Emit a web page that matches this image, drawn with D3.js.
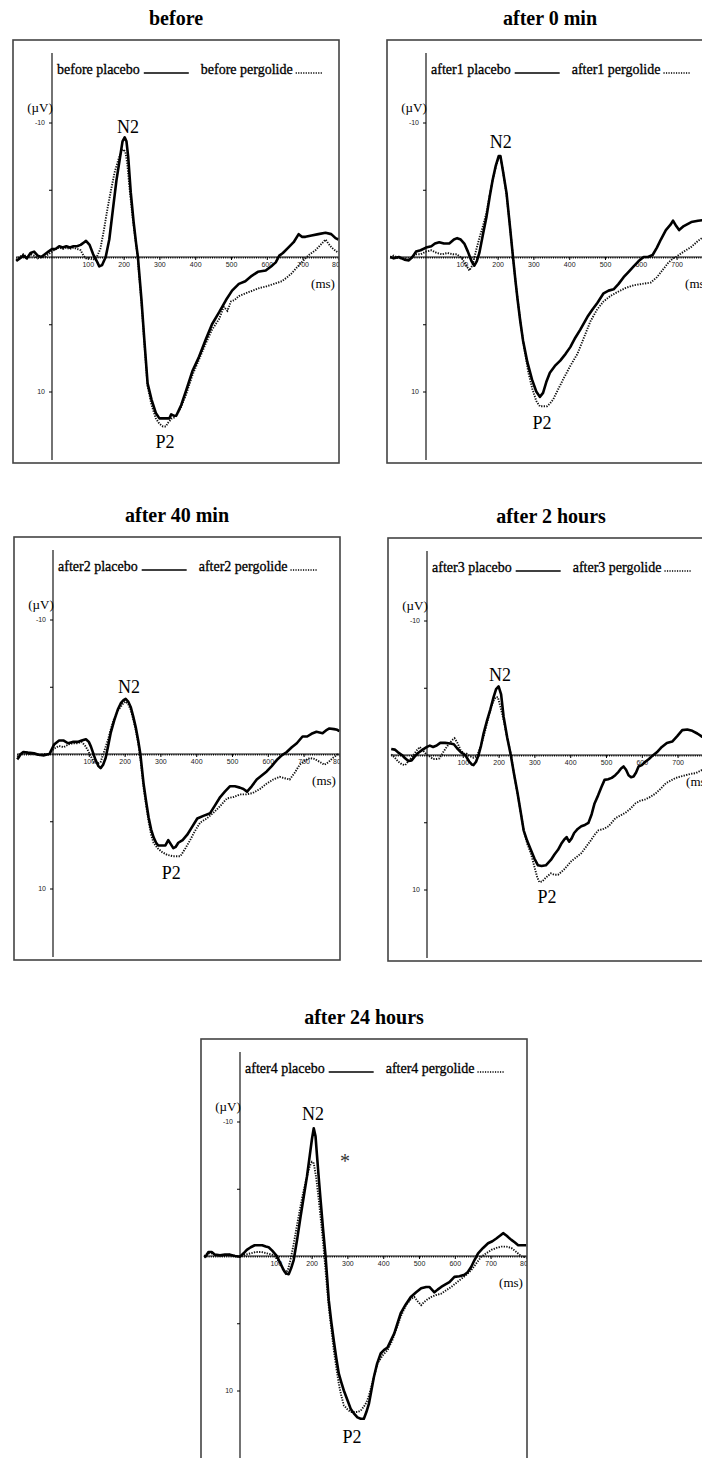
<!DOCTYPE html>
<html><head><meta charset="utf-8">
<script src="https://cdn.jsdelivr.net/npm/d3@7"></script>
<style>body{margin:0;background:#fff;} svg{display:block}</style>
</head><body>
<svg id="c" width="702" height="1458"></svg>
<script>
// ---------- DATA ----------
const panelTitles = ["before", "after 0 min", "after 40 min", "after 2 hours", "after 24 hours"];
const placeboLabels = ["before placebo", "after1 placebo", "after2 placebo", "after3 placebo", "after4 placebo"];
const pergolideLabels = ["before pergolide", "after1 pergolide", "after2 pergolide", "after3 pergolide", "after4 pergolide"];
const xTickValues = [100, 200, 300, 400, 500, 600, 700, 800];
const xTickLabels = ["100", "200", "300", "400", "500", "600", "700", "80"];
const yTickValues = [-10, -5, 5, 10];
const yTickLabels = ["-10", "", "", "10"];
const xUnit = "(ms)";
const yUnit = "(\u00B5V)";
// label anchors [ms, µV]
const n2Labels = [[212, -9.7], [209, -8.55], [212, -5.0], [204, -5.95], [204, -10.55]];
const p2Labels = [[316, 13.75], [324, 12.3], [330, 8.85], [335, 10.55], [313, 13.45]];
const asteriskMark = [293, -7.35];

// [ms, µV]  (negative up)
const beforePlacebo = [[-100,0.3],[-90,0.1],[-80,-0.1],[-70,0.1],[-60,-0.3],[-50,-0.4],[-40,-0.1],[-30,0],[-20,-0.2],[-10,-0.4],[0,-0.6],[10,-0.6],[20,-0.8],[30,-0.7],[40,-0.8],[50,-0.7],[60,-0.8],[70,-0.8],[80,-0.9],[90,-1.1],[95,-1.2],[105,-0.9],[115,-0.2],[125,0.3],[132,0.7],[140,0.6],[150,0],[160,-1.3],[170,-3.5],[180,-5.7],[190,-7.4],[197,-8.6],[203,-8.9],[208,-8.6],[213,-7.4],[220,-4.8],[228,-2.6],[235,-1],[240,0],[245,1.6],[250,3.2],[258,6.2],[267,9.4],[278,10.6],[290,11.6],[300,12],[315,12],[328,12],[333,11.7],[340,11.8],[347,11.8],[361,11],[375,9.9],[392,8.5],[411,7.4],[430,6.1],[447,5.0],[467,4.1],[486,3.2],[503,2.5],[522,2.0],[540,1.8],[558,1.4],[575,1.1],[597,1.0],[612,0.7],[625,0.4],[635,-0.1],[645,-0.3],[660,-0.7],[675,-1.1],[689,-1.7],[698,-1.5],[708,-1.5],[725,-1.6],[744,-1.7],[764,-1.8],[780,-1.7],[792,-1.4],[800,-1.3]];
const beforePergolide = [[-100,0.2],[-90,0],[-80,-0.2],[-70,0],[-60,-0.2],[-50,-0.1],[-40,0.1],[-30,0],[-20,0],[-10,-0.2],[0,-0.4],[10,-0.6],[20,-0.7],[30,-0.6],[40,-0.7],[50,-0.6],[60,-0.7],[70,-0.6],[80,-0.5],[88,-0.1],[95,0.1],[105,0.1],[115,0.2],[125,0],[135,-0.6],[145,-2.0],[155,-3.6],[165,-5.0],[175,-6.3],[185,-7.2],[193,-7.8],[200,-8.0],[205,-7.8],[210,-7.0],[217,-5.0],[225,-3.0],[232,-1.5],[238,-0.3],[243,1.2],[250,3.4],[258,6.4],[267,9.6],[278,11],[290,12],[300,12.4],[310,12.6],[318,12.6],[325,12.3],[335,12],[345,11.9],[360,11.2],[375,10.2],[392,8.8],[411,7.6],[430,6.4],[447,5.4],[467,4.6],[480,3.7],[490,4.0],[500,3.3],[510,3.2],[522,2.9],[541,2.7],[560,2.5],[580,2.3],[597,2.2],[620,2.0],[642,1.8],[657,1.5],[670,1.2],[690,0.6],[708,0.1],[720,-0.2],[736,-0.5],[750,-0.9],[764,-1.3],[772,-1.0],[781,-0.7],[795,-0.4],[800,-0.3]];

const after1Placebo = [[-100,0],[-90,0.1],[-76,0],[-60,0.2],[-48,0.25],[-38,0],[-28,-0.4],[-15,-0.5],[0,-0.7],[15,-0.8],[25,-1.0],[37,-1.1],[50,-1.0],[65,-1.0],[78,-1.3],[87,-1.4],[97,-1.3],[107,-1.0],[117,-0.4],[127,0.3],[135,0.65],[142,0.3],[149,-0.3],[160,-1.8],[169,-3.0],[178,-4.5],[186,-5.7],[195,-6.8],[203,-7.5],[208,-7.5],[215,-6.4],[225,-4.75],[234,-2.4],[243,0],[250,1.8],[256,3.2],[263,4.7],[271,6.2],[283,7.8],[296,9.1],[308,10.0],[318,10.4],[327,10.1],[336,9.3],[346,8.6],[360,8.1],[375,7.7],[390,7.2],[403,6.7],[417,6.0],[431,5.4],[451,4.45],[465,3.9],[479,3.4],[496,2.7],[510,2.5],[524,2.4],[538,2.0],[552,1.5],[566,1.1],[580,0.7],[594,0.3],[608,0],[620,0],[633,-0.15],[645,-0.7],[656,-1.3],[670,-2.0],[683,-2.4],[690,-2.7],[699,-2.3],[707,-2.0],[720,-2.3],[741,-2.6],[760,-2.7],[775,-2.75],[800,-2.8]];
const after1Pergolide = [[-100,0],[-90,-0.1],[-76,0.1],[-60,0.1],[-48,0.2],[-30,-0.2],[-15,-0.2],[0,-0.4],[15,-0.5],[30,-0.3],[45,-0.2],[60,-0.3],[75,-0.2],[87,-0.2],[100,0.1],[112,0.6],[121,1.0],[130,0.6],[140,-0.5],[150,-1.5],[158,-2.2],[169,-3.3],[178,-4.6],[186,-5.7],[195,-6.7],[203,-7.4],[208,-7.4],[215,-6.4],[225,-4.6],[234,-2.4],[243,0],[250,1.8],[258,3.6],[266,5.3],[275,6.9],[286,8.6],[297,9.8],[308,10.7],[318,11.1],[330,11.1],[338,11.1],[346,10.9],[355,10.6],[368,9.9],[383,9.1],[403,8.1],[423,7.2],[441,6.0],[459,4.8],[478,3.9],[496,3.3],[515,2.9],[535,2.6],[558,2.3],[580,2.1],[604,2.0],[628,1.9],[645,1.5],[660,1.0],[676,0.45],[690,0.1],[698,0],[720,-0.4],[741,-0.75],[760,-1.2],[775,-1.5],[800,-1.8]];

const after2Placebo = [[-100,0.4],[-97,0.3],[-90,0],[-83,-0.15],[-70,-0.1],[-53,-0.05],[-40,0.05],[-25,0.1],[-10,0],[3,-0.7],[17,-1.0],[30,-1.0],[42,-0.8],[55,-0.9],[69,-0.9],[80,-1.0],[92,-1.1],[100,-0.9],[106,-0.55],[119,0.45],[127,0.9],[133,1.05],[140,0.8],[147,0.3],[154,-0.6],[161,-1.55],[171,-2.5],[181,-3.3],[190,-3.8],[197,-4.0],[203,-4.1],[210,-3.9],[217,-3.5],[224,-2.8],[231,-2.0],[238,-1.0],[244,0],[253,2.2],[260,3.5],[267,4.7],[274,5.6],[281,6.2],[288,6.6],[294,6.8],[305,6.8],[314,6.8],[322,6.4],[329,6.7],[336,7.0],[343,6.9],[350,6.6],[362,6.4],[375,6.0],[389,5.4],[403,4.8],[420,4.6],[439,4.4],[453,3.8],[467,3.2],[480,2.8],[494,2.4],[508,2.4],[522,2.5],[532,2.6],[542,2.8],[555,2.4],[569,1.9],[583,1.6],[597,1.3],[611,0.9],[625,0.45],[639,0.1],[653,-0.15],[667,-0.5],[681,-0.8],[697,-1.3],[710,-1.3],[722,-1.5],[736,-1.65],[753,-1.55],[765,-1.8],[772,-1.9],[785,-1.85],[794,-1.8],[800,-1.7]];
const after2Pergolide = [[-100,0.2],[-90,0],[-80,-0.1],[-70,0],[-53,0],[-40,0.1],[-25,0],[-10,0],[3,-0.4],[17,-0.6],[30,-0.5],[42,-0.7],[55,-0.8],[69,-0.8],[80,-0.9],[90,-0.6],[97,-0.3],[106,0.2],[114,0.6],[125,0.7],[133,0.6],[143,-0.2],[153,-1.0],[161,-1.8],[169,-2.5],[180,-3.2],[189,-3.5],[197,-3.8],[203,-3.9],[210,-3.7],[217,-3.3],[224,-2.6],[231,-1.8],[238,-0.8],[244,0.3],[253,2.5],[260,3.8],[267,5.0],[274,6.0],[281,6.6],[292,7.0],[305,7.3],[319,7.5],[335,7.6],[345,7.6],[356,7.6],[370,7.0],[383,6.4],[397,5.7],[411,5.1],[429,4.8],[447,4.4],[466,3.9],[486,3.3],[504,3.2],[522,3.0],[540,3.0],[558,2.9],[578,2.6],[597,2.2],[615,1.9],[633,1.7],[647,1.8],[661,1.9],[675,1.4],[689,0.8],[703,0.5],[717,0.3],[728,0.35],[736,0.45],[746,0.6],[758,0.8],[770,0.6],[781,0.3],[794,0.05],[800,0]];

const after3Placebo = [[-100,-0.45],[-90,-0.4],[-81,-0.2],[-70,0],[-61,0.25],[-52,0.45],[-43,0.4],[-34,0.1],[-25,-0.15],[-12,-0.4],[0,-0.6],[8,-0.7],[17,-0.6],[27,-0.7],[37,-0.9],[50,-0.9],[65,-0.85],[75,-0.8],[84,-0.5],[95,-0.2],[107,0],[118,0.5],[125,0.7],[130,0.75],[137,0.5],[144,0],[151,-0.7],[158,-1.6],[168,-2.6],[177,-3.4],[186,-4.3],[193,-4.9],[200,-5.1],[207,-4.5],[214,-2.85],[224,-1.3],[234,0],[243,1.4],[253,2.85],[262,4.3],[270,5.6],[280,6.4],[290,7.05],[300,7.7],[310,8.2],[320,8.25],[332,8.2],[339,8.0],[346,7.8],[356,7.4],[366,7.05],[375,6.6],[383,6.3],[390,6.1],[397,6.45],[404,6.2],[411,5.8],[421,5.5],[431,5.3],[441,5.2],[451,5.05],[460,4.4],[468,3.6],[478,3.0],[487,2.4],[496,1.85],[506,1.8],[516,1.7],[526,1.5],[535,1.25],[542,1.0],[549,0.85],[556,1.1],[563,1.5],[570,1.65],[577,1.6],[584,1.3],[591,0.85],[600,0.75],[610,0.5],[620,0.3],[628,0.1],[642,-0.2],[656,-0.6],[670,-0.9],[685,-1.0],[699,-1.4],[713,-1.85],[727,-1.9],[741,-1.8],[755,-1.6],[769,-1.35],[785,-1.25],[800,-1.2]];
const after3Pergolide = [[-100,-0.05],[-90,0.2],[-80,0.5],[-70,0.7],[-61,0.75],[-50,0.4],[-40,0.1],[-30,-0.3],[-20,-0.6],[-10,-0.3],[0,0],[7,0.1],[17,0.3],[27,0.3],[35,0.25],[45,-0.2],[55,-0.6],[62,-0.85],[70,-1.1],[77,-1.25],[85,-0.9],[94,-0.35],[103,-0.1],[111,-0.1],[120,0.1],[130,0.2],[139,0.1],[148,-0.5],[158,-1.35],[168,-2.4],[177,-3.35],[185,-4.0],[192,-4.3],[198,-4.3],[205,-3.6],[214,-2.6],[224,-1.3],[234,-0.1],[243,1.4],[253,2.9],[262,4.3],[270,5.6],[280,6.6],[290,7.3],[300,8.3],[308,9.1],[314,9.45],[322,9.4],[329,9.2],[337,9.0],[346,8.8],[356,8.9],[366,8.9],[375,8.7],[383,8.5],[393,8.2],[403,7.9],[417,7.6],[431,7.3],[445,6.8],[459,6.3],[469,5.9],[479,5.6],[493,5.5],[507,5.3],[517,5.0],[526,4.7],[540,4.5],[554,4.3],[568,4.0],[582,3.6],[596,3.4],[610,3.3],[625,3.1],[639,2.85],[653,2.5],[667,2.1],[681,1.9],[695,1.7],[709,1.6],[723,1.5],[737,1.4],[751,1.35],[769,1.1],[785,0.9],[800,0.8]];

const after4Placebo = [[-100,0.1],[-95,0],[-88,-0.3],[-79,-0.3],[-70,-0.1],[-56,-0.05],[-42,-0.1],[-28,-0.1],[-14,0],[0,0.05],[10,-0.2],[19,-0.45],[30,-0.65],[41,-0.8],[51,-0.8],[62,-0.8],[72,-0.7],[80,-0.65],[90,-0.4],[103,0],[112,0.5],[122,1.05],[129,1.3],[136,1.35],[143,0.9],[150,0.3],[160,-1.3],[169,-2.9],[178,-4.4],[187,-5.9],[195,-7.5],[201,-8.7],[206,-9.5],[211,-8.9],[215,-7.5],[220,-5.8],[225,-4.2],[232,-2.0],[239,0],[248,3.3],[255,4.9],[262,6.3],[269,7.6],[276,8.75],[283,9.4],[290,10.0],[300,10.7],[309,11.35],[318,11.7],[328,12.0],[337,12.1],[346,12.1],[353,11.6],[360,11.0],[367,10.0],[374,9.0],[383,8.0],[393,7.25],[402,7.0],[412,6.8],[421,6.3],[431,5.75],[440,5.0],[449,4.25],[463,3.6],[477,3.05],[492,2.7],[506,2.4],[520,2.3],[529,2.3],[536,2.5],[543,2.7],[552,2.5],[562,2.3],[575,2.1],[585,1.95],[599,1.55],[613,1.5],[627,1.4],[636,1.2],[646,0.8],[655,0.3],[665,-0.2],[679,-0.6],[693,-0.95],[705,-1.1],[716,-1.3],[726,-1.5],[735,-1.7],[745,-1.5],[758,-1.2],[768,-1.0],[777,-0.8],[790,-0.8],[800,-0.8]];
const after4Pergolide = [[-100,0],[-90,-0.2],[-80,-0.2],[-70,-0.1],[-56,0],[-42,-0.05],[-28,-0.1],[-14,0],[0,0.05],[15,-0.1],[30,-0.2],[45,-0.3],[60,-0.3],[75,-0.2],[90,-0.1],[103,0.2],[113,0.55],[120,1.0],[127,1.3],[134,1.0],[141,0.3],[150,-0.9],[160,-2.4],[169,-3.7],[178,-4.9],[187,-5.9],[195,-6.7],[201,-7.0],[206,-6.9],[213,-5.8],[220,-4.2],[227,-2.4],[234,-0.45],[241,1.7],[248,3.8],[255,5.4],[262,7.0],[269,8.3],[276,9.5],[283,10.4],[290,11.1],[300,11.4],[309,11.6],[318,11.6],[328,11.6],[337,11.5],[346,11.2],[353,10.9],[360,10.4],[372,9.2],[384,8.0],[398,7.4],[412,7.0],[425,6.3],[437,5.4],[449,4.5],[463,3.7],[477,3.2],[487,3.05],[497,3.4],[506,3.65],[515,3.4],[525,3.2],[534,3.05],[548,2.9],[562,2.8],[576,2.55],[590,2.3],[604,2.0],[618,1.7],[632,1.4],[646,1.05],[660,0.55],[674,0.05],[688,-0.2],[702,-0.45],[716,-0.6],[730,-0.7],[744,-0.7],[758,-0.6],[772,-0.3],[787,0.05],[800,0.1]];

const placeboSeries = [beforePlacebo, after1Placebo, after2Placebo, after3Placebo, after4Placebo];
const pergolideSeries = [beforePergolide, after1Pergolide, after2Pergolide, after3Pergolide, after4Pergolide];

// ---------- LAYOUT ----------
const W = 702;
const panelPos = [[13, 40], [387, 40], [14, 537], [388, 538], [201, 1039]];
const FW = 326, FH = 423;
const AXX = 39, BASE = 217, PXUV = 13.45;
const serif = "'Liberation Serif','Times New Roman',Times,serif";
const sans = "'Liberation Sans',Arial,sans-serif";

const svg = d3.select("#c");
const x = d3.scaleLinear().domain([-100, 800]).range([AXX - 35.8, AXX + 8 * 35.8]);
const y = d3.scaleLinear().domain([-15, 15]).range([BASE - 15 * PXUV, BASE + 15 * PXUV]);
const line = d3.line().x(d => x(d[0])).y(d => y(d[1]));

panelPos.forEach((p, i) => {
  const g = svg.append("g").attr("transform", `translate(${p[0]},${p[1]})`);
  // title
  g.append("text").attr("x", FW / 2).attr("y", -15).attr("text-anchor", "middle")
    .attr("font-family", serif).attr("font-weight", "bold").attr("font-size", 20)
    .text(panelTitles[i]);

  const clipId = "clip" + i;
  g.append("clipPath").attr("id", clipId).append("rect").attr("x", 0).attr("y", 0).attr("width", FW).attr("height", FH);
  const inner = g.append("g").attr("clip-path", `url(#${clipId})`);

  // y axis
  const yAxis = d3.axisLeft(y).tickValues(yTickValues).tickSize(3).tickSizeOuter(0)
    .tickFormat((d, k) => yTickLabels[k]);
  const ya = inner.append("g").attr("transform", `translate(${AXX},0)`).call(yAxis);
  ya.select(".domain").remove();
  ya.selectAll("text").attr("font-family", sans).attr("font-size", 7).attr("fill", "#222").attr("dx", -1);
  ya.selectAll("line").attr("stroke", "#000");
  inner.append("line").attr("x1", AXX).attr("x2", AXX).attr("y1", 13).attr("y2", 420)
    .attr("stroke", "#000").attr("stroke-width", 1.1);

  // x axis (baseline)
  inner.append("line").attr("x1", x(-100)).attr("x2", FW).attr("y1", y(0)).attr("y2", y(0))
    .attr("stroke", "#000").attr("stroke-width", 1);
  inner.append("line").attr("x1", x(-100)).attr("x2", FW).attr("y1", y(0) + 0.8).attr("y2", y(0) + 0.8)
    .attr("stroke", "#000").attr("stroke-width", 1.6).attr("stroke-dasharray", "1,1.2");
  const visTicks = xTickValues.filter(v => p[0] + x(v) < W - 6);
  const xAxis = d3.axisBottom(x).tickValues(visTicks).tickSize(3).tickSizeOuter(0)
    .tickFormat(d => xTickLabels[xTickValues.indexOf(d)]);
  const xa = inner.append("g").attr("transform", `translate(0,${y(0)})`).call(xAxis);
  xa.select(".domain").remove();
  xa.selectAll("text").attr("font-family", sans).attr("font-size", 7).attr("fill", "#222").attr("dy", "0.55em")
    .attr("dx", d => d === 800 ? -3 : 0);

  inner.append("text").attr("x", 310).attr("y", 248).attr("text-anchor", "middle")
    .attr("font-family", serif).attr("font-size", 13).text(xUnit);
  inner.append("text").attr("x", 27).attr("y", 72).attr("text-anchor", "middle")
    .attr("font-family", serif).attr("font-size", 13).text(yUnit);

  // legend
  const lgY = 34;
  const t1 = inner.append("text").attr("x", 44).attr("y", lgY).attr("font-family", serif)
    .attr("font-size", 14).attr("stroke", "#000").attr("stroke-width", 0.3).text(placeboLabels[i]);
  const e1 = 44 + t1.node().getComputedTextLength();
  inner.append("line").attr("x1", e1 + 4).attr("x2", e1 + 49).attr("y1", lgY - 1).attr("y2", lgY - 1)
    .attr("stroke", "#000").attr("stroke-width", 1.3);
  const s2 = e1 + 61;
  const t2 = inner.append("text").attr("x", s2).attr("y", lgY).attr("font-family", serif)
    .attr("font-size", 14).attr("stroke", "#000").attr("stroke-width", 0.3).text(pergolideLabels[i]);
  const e2 = s2 + t2.node().getComputedTextLength();
  inner.append("line").attr("x1", e2 + 3).attr("x2", e2 + 30).attr("y1", lgY - 1).attr("y2", lgY - 1)
    .attr("stroke", "#000").attr("stroke-width", 1.4).attr("stroke-dasharray", "1.2,1.3");

  // traces
  inner.append("path").datum(pergolideSeries[i]).attr("d", line).attr("fill", "none")
    .attr("stroke", "#111").attr("stroke-width", 1.9).attr("stroke-dasharray", "1.3,1.3");
  inner.append("path").datum(placeboSeries[i]).attr("d", line).attr("fill", "none")
    .attr("stroke", "#000").attr("stroke-width", 2.6).attr("stroke-linejoin", "round");

  // component labels
  inner.append("text").attr("x", x(n2Labels[i][0])).attr("y", y(n2Labels[i][1])).attr("dy", "0.35em")
    .attr("text-anchor", "middle").attr("font-family", serif).attr("font-size", 18).text("N2");
  inner.append("text").attr("x", x(p2Labels[i][0])).attr("y", y(p2Labels[i][1])).attr("dy", "0.35em")
    .attr("text-anchor", "middle").attr("font-family", serif).attr("font-size", 18).text("P2");
  if (i === 4) {
    inner.append("text").attr("x", x(asteriskMark[0])).attr("y", y(asteriskMark[1])).attr("dy", "0.55em")
      .attr("text-anchor", "middle").attr("font-family", serif).attr("font-size", 20).attr("fill", "#333").text("*");
  }

  // frame
  g.append("rect").attr("x", 0).attr("y", 0).attr("width", FW).attr("height", FH)
    .attr("fill", "none").attr("stroke", "#444").attr("stroke-width", 1.6);
});
</script>
</body></html>
